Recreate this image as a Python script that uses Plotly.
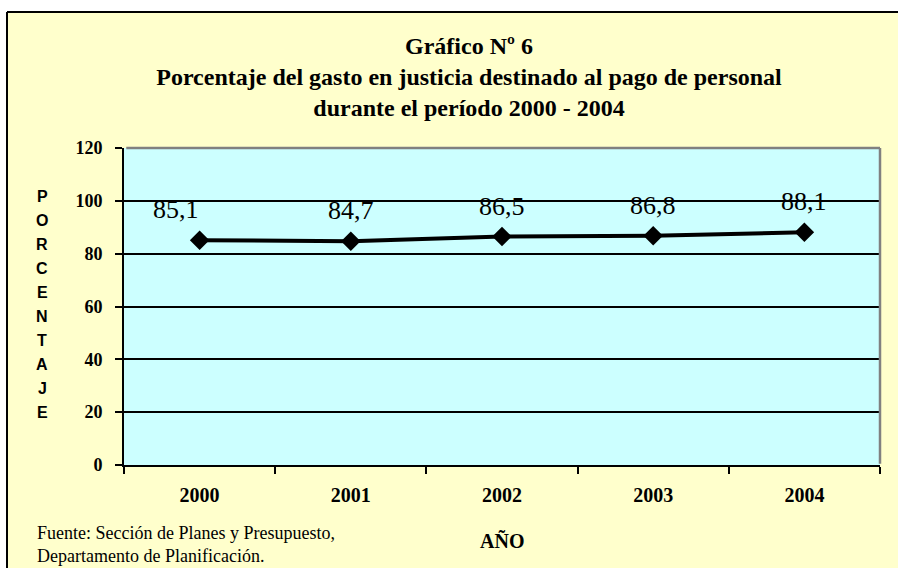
import plotly.graph_objects as go

# ---- data ----
years = ["2000", "2001", "2002", "2003", "2004"]
values = [85.1, 84.7, 86.5, 86.8, 88.1]
y_ticks = [0, 20, 40, 60, 80, 100, 120]

title_lines = ["Gráfico Nº 6",
               "Porcentaje del gasto en justicia destinado al pago de personal",
               "durante el período 2000 - 2004"]
y_title = "PORCENTAJE"
x_title = "AÑO"
source_lines = ["Fuente: Sección de Planes y Presupuesto,",
                "Departamento de Planificación."]

# ---- layout geometry (pixels) ----
W, H = 898, 568
L, R, T, B = 124, 18, 148, 103
PW, PH = W - L - R, H - T - B

def px_x(p):
    return (p - L) / PW

def px_y(p):
    return (H - B - p) / PH

SERIF = "Liberation Serif, Times New Roman, serif"
SANS = "Liberation Sans, Arial, sans-serif"

fig = go.Figure()
fig.add_trace(go.Scatter(
    x=years, y=values, mode="lines+markers",
    line=dict(color="black", width=4),
    marker=dict(symbol="diamond", size=15, color="black"),
    hoverinfo="skip", showlegend=False,
))

annotations = []
# data labels
label_dx = [-24, 0, 0, 0, 0]
for i, v in enumerate(values):
    annotations.append(dict(
        x=i, y=v, xref="x", yref="y",
        text=f"{v:.1f}".replace(".", ","), showarrow=False,
        yanchor="bottom", xanchor="center", yshift=14, xshift=label_dx[i],
        font=dict(family=SERIF, size=26, color="black"),
    ))

# vertical stacked y-axis title
for k, ch in enumerate(y_title):
    annotations.append(dict(
        x=px_x(42), y=px_y(196 + k * 24.06), xref="paper", yref="paper",
        text=ch, showarrow=False, xanchor="center", yanchor="middle",
        font=dict(family=SANS, size=16, color="black", weight="bold"),
    ))

# x-axis title
annotations.append(dict(
    x=0.5, y=px_y(541), xref="paper", yref="paper", text=x_title,
    showarrow=False, xanchor="center", yanchor="middle",
    font=dict(family=SERIF, size=20, color="black", weight="bold"),
))

# source note
annotations.append(dict(
    x=px_x(35), y=px_y(544), xref="paper", yref="paper",
    text="<br>".join(source_lines), showarrow=False,
    xanchor="left", yanchor="middle", align="left",
    font=dict(family=SERIF, size=18, color="black"),
))

shapes = [
    # white surround outside the chart frame
    dict(type="rect", xref="paper", yref="paper",
         x0=px_x(-5), x1=px_x(W + 5), y0=px_y(12), y1=px_y(-5),
         fillcolor="white", line=dict(width=0), layer="below"),
    dict(type="rect", xref="paper", yref="paper",
         x0=px_x(-5), x1=px_x(7), y0=px_y(H + 5), y1=px_y(-5),
         fillcolor="white", line=dict(width=0), layer="below"),
    # black frame lines
    dict(type="line", xref="paper", yref="paper",
         x0=px_x(7), x1=px_x(W + 5), y0=px_y(12), y1=px_y(12),
         line=dict(color="black", width=2), layer="below"),
    dict(type="line", xref="paper", yref="paper",
         x0=px_x(7), x1=px_x(7), y0=px_y(H + 5), y1=px_y(12),
         line=dict(color="black", width=2), layer="below"),
    # gray top / right borders of plot area
    dict(type="line", xref="paper", yref="paper", x0=0.003, x1=1, y0=1, y1=1,
         line=dict(color="#808080", width=2.5), layer="above"),
    dict(type="line", xref="paper", yref="paper", x0=1, x1=1, y0=0.004, y1=1,
         line=dict(color="#808080", width=2.5), layer="above"),
]

fig.update_layout(
    width=W, height=H, autosize=False,
    margin=dict(l=L, r=R, t=T, b=B, pad=0),
    paper_bgcolor="#FFFFCC", plot_bgcolor="#CCFFFF",
    title=dict(text="<br>".join(title_lines), x=469 / W, xanchor="center",
               xref="container", yref="container", y=1 - 54 / H, yanchor="top",
               font=dict(family=SERIF, size=24, color="black", weight="bold")),
    xaxis=dict(type="category", categoryorder="array", categoryarray=years,
               range=[-0.5, len(years) - 0.5], autorange=False,
               tickson="boundaries", ticks="outside", ticklen=7, tickwidth=2,
               tickcolor="black", showline=True, linecolor="black", linewidth=2,
               showgrid=False, zeroline=False, ticklabelstandoff=11,
               tickangle=0,
               tickfont=dict(family=SERIF, size=20, color="black", weight="bold")),
    yaxis=dict(range=[0, 120], autorange=False, tickvals=y_ticks,
               ticks="outside", ticklen=7,
               tickwidth=2, tickcolor="black", showline=True, linecolor="black",
               linewidth=2, showgrid=True, gridcolor="black", gridwidth=2,
               zeroline=False, ticklabelstandoff=9,
               tickfont=dict(family=SERIF, size=18, color="black", weight="bold")),
    annotations=annotations, shapes=shapes,
)

fig.write_html("out.html", config={"displayModeBar": False},
               post_script="document.body.style.margin='0';document.body.style.padding='0';")
